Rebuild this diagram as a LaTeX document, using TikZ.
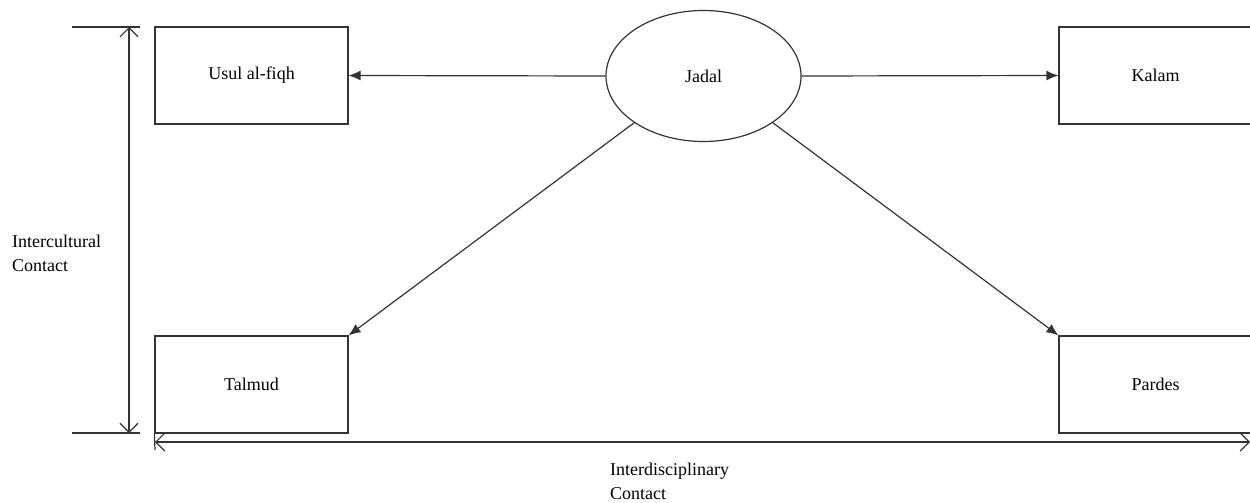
\documentclass[tikz,border=0pt]{standalone}
\usepackage{fontspec}
\setmainfont{Liberation Serif}
\usetikzlibrary{arrows.meta,shapes.geometric}
\begin{document}
\begin{tikzpicture}[x=1pt,y=-1pt,
  line/.style={draw=black!80, line width=1.2pt},
  box/.style={line, rectangle, minimum width=193pt, minimum height=97pt, inner sep=0pt, font=\fontsize{18}{24}\selectfont},
  oval/.style={line, ellipse, minimum width=195pt, minimum height=131pt, inner sep=0pt, font=\fontsize{18}{24}\selectfont},
  conn/.style={line, -{Latex[length=12pt,width=10pt]}},
  dbl/.style={line, {Straight Barb[length=9pt,width=18pt]}-{Straight Barb[length=9pt,width=18pt]}},
  lbl/.style={align=left, inner sep=0pt, anchor=north west, font=\fontsize{18}{24}\selectfont}]
\useasboundingbox (0,0) rectangle (1250,503);
\node[box] (usul) at (251.5,75.5) {Usul al-fiqh};
\node[box] (talmud) at (251.5,384.5) {Talmud};
\node[box] (kalam) at (1155.5,75.5) {Kalam};
\node[box] (pardes) at (1155.5,384.5) {Pardes};
\node[oval] (jadal) at (703.5,76) {Jadal};
\draw[conn] (jadal.west) -- (usul.east);
\draw[conn] (jadal.east) -- (kalam.west);
\draw[conn] (jadal.-146) -- (talmud.north east);
\draw[conn] (jadal.-34) -- (pardes.north west);
% intercultural axis
\coordinate (t1) at (72,27); \coordinate (t2) at (140,27);
\coordinate (b1) at (72,433); \coordinate (b2) at (140,433);
\draw[line] (t1) -- (t2);
\draw[line] (b1) -- (b2);
\coordinate (va) at (129,27); \coordinate (vb) at (129,433);
\draw[dbl] (va) -- (vb);
\node[lbl] (ic) at (12,235) {Intercultural\\Contact};
% interdisciplinary axis
\coordinate (ha) at (155,442); \coordinate (hb) at (1250,442);
\coordinate (hk) at (155,450);
\draw[line] (talmud.south west) -- (hk);
\draw[dbl] (ha) -- (hb);
\node[lbl] (id) at (610,463) {Interdisciplinary\\Contact};
\end{tikzpicture}
\end{document}
